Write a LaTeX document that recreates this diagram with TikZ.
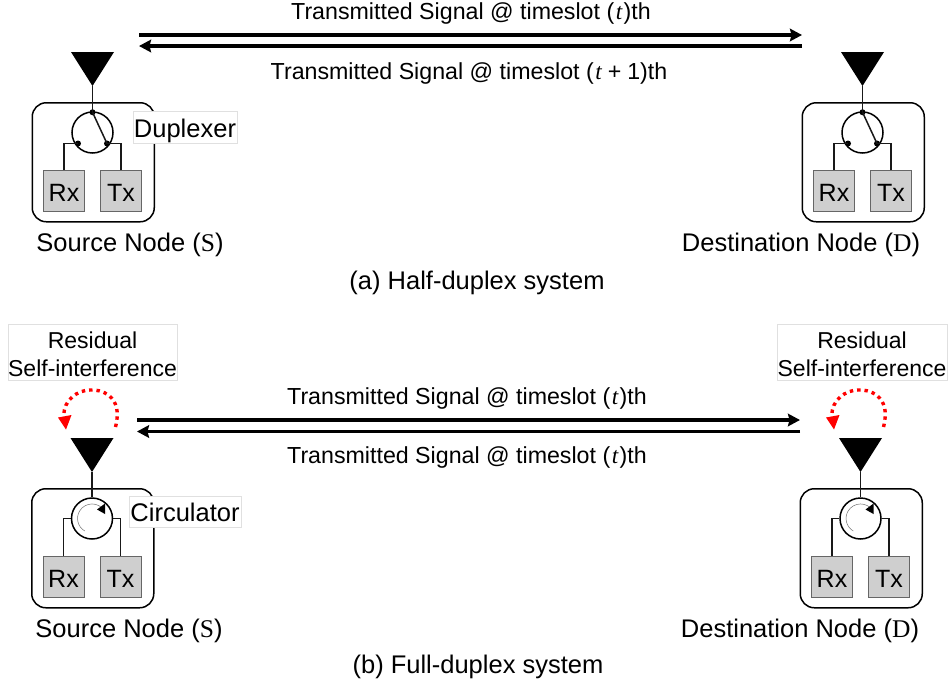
\documentclass[tikz,border=0pt]{standalone}
\usepackage{fontspec}
\setmainfont{Liberation Sans}
\newfontfamily\mathser{Liberation Serif}
\usetikzlibrary{arrows.meta,calc}
\newcommand{\tvar}[1]{\hspace{1.5pt}{\mathser\itshape #1}\hspace{1.5pt}}
\newcommand{\tplus}{\hspace{1.5pt}{\mathser\itshape t}\hspace{6pt}+\hspace{6pt}1}
\tikzset{
  x=1pt,y=-1pt,
  wire/.style={line width=1.5pt,black!90},
  frame/.style={draw=black,line width=1.5pt,rounded corners=14pt,minimum width=122pt,minimum height=119pt,inner sep=0,fill=white},
  port/.style={draw=black!60,fill=black!19,line width=0.8pt,minimum width=41pt,minimum height=41pt,inner sep=0,text height=21pt,text depth=0pt,font=\fontsize{25}{25}\selectfont},
  hub/.style={circle,draw=black,line width=1.5pt,minimum size=41pt,inner sep=0,fill=white},
  ant/.style={fill=black,draw=none},
  dotn/.style={circle,fill=black,minimum size=6pt,inner sep=0},
  txt/.style={font=\fontsize{23.2}{28}\selectfont,inner sep=0},
  captxt/.style={font=\fontsize{25.5}{30}\selectfont,inner sep=0},
  tag/.style={draw=black!12,fill=white,line width=0.6pt,inner sep=0},
  rtxt/.style={inner sep=0,align=center,font=\fontsize{23}{28}\selectfont},
  main/.style={line width=3.6pt,-{Stealth[length=12pt,width=12.5pt,inset=1.5pt]}},
  sig/.style={red,line width=3.4pt,dash pattern=on 3.4pt off 4pt},
}
\newcommand{\hubnode}[3]{% #1 prefix, #2 x, #3 y (frame top-left)
  \node[frame,anchor=north west] (#1box) at (#2,#3) {};
  \node[hub] (#1hub) at ($(#2,#3)+(61,30.5)$) {};
  \node[port] (#1rx) at ($(#2,#3)+(32.5,88.5)$) {Rx};
  \node[port] (#1tx) at ($(#2,#3)+(89.5,88.5)$) {Tx};
  \coordinate (#1tip) at ($(#2,#3)+(61,-16)$);
  \fill[ant] ($(#2,#3)+(39.5,-50)$) -- ($(#2,#3)+(82.5,-50)$) -- (#1tip) -- cycle;
}
\begin{document}
\begin{tikzpicture}
\useasboundingbox (0,0) rectangle (950,681);
% --- half duplex
\hubnode{a}{31.5}{102}
\hubnode{b}{801.5}{102}
\foreach \n in {a,b}{
  \node[dotn] (\n top) at ($(\n hub.north)+(0,1)$) {};
  \node[dotn] (\n l) at ($(\n hub.center)+(-14.5,11)$) {};
  \node[dotn] (\n r) at ($(\n hub.center)+(14.5,11)$) {};
  \draw[wire] (\n tip) -- (\n top.center);
  \draw[wire] (\n top.center) -- (\n r.center);
  \draw[wire] (\n l.center) -| (\n rx.north);
  \draw[wire] (\n r.center) -| (\n tx.north);
}
% --- full duplex
\hubnode{c}{31}{488}
\hubnode{d}{799.5}{488}
\foreach \n in {c,d}{
  \draw[wire] (\n tip) -- (\n hub.north);
  \draw[wire] (\n hub.west) -| (\n rx.north);
  \draw[wire] (\n hub.east) -| (\n tx.north);
  \draw[black!55,line width=0.5pt] ($(\n hub.center)+(-7.2,12.5)$) arc[start angle=240,end angle=35,radius=14.5pt];
  \fill[black] ($(\n hub.center)+(5,-9)$) -- ($(\n hub.center)+(13,-15)$) -- ($(\n hub.center)+(13,-4.5)$) -- cycle;
}
% --- main arrows
\coordinate (a1) at (139,35); \coordinate (a2) at (802,35);
\coordinate (a3) at (802,46); \coordinate (a4) at (139,46);
\draw[main] (a1) -- (a2);
\draw[main] (a3) -- (a4);
\coordinate (c1) at (137,420); \coordinate (c2) at (800,420);
\coordinate (c3) at (800,431.5); \coordinate (c4) at (137,431.5);
\draw[main] (c1) -- (c2);
\draw[main] (c3) -- (c4);
% --- loops
\foreach \dx/\nm in {0/l,768/r}{
  \draw[sig] ($(115.5,427)+(\dx,0)$) .. controls ($(124,395)+(\dx,0)$) and ($(100,389)+(\dx,0)$) .. ($(90,390)+(\dx,0)$) .. controls ($(78,390)+(\dx,0)$) and ($(63,400)+(\dx,0)$) .. ($(64,416)+(\dx,0)$);
  \fill[red] ($(58,417.5)+(\dx,0)$) -- ($(71.5,415)+(\dx,0)$) -- ($(66,429.5)+(\dx,0)$) -- cycle;
}
% --- text
\node[txt] (t1) at (471,13) {Transmitted Signal @ timeslot (\tvar{t})th};
\node[txt] (t2) at (469,73) {Transmitted Signal @ timeslot (\tplus)th};
\node[captxt] (t3) at (130,245) {Source Node ({\mathser S})};
\node[captxt] (t4) at (801,245) {Destination Node ({\mathser D})};
\node[captxt] (t5) at (477,283) {(a) Half-duplex system};
\node[tag,minimum width=104pt,minimum height=32pt] (dup) at (185,127) {};
\node[captxt] (dupt) at (185,131) {Duplexer};
\node[tag,minimum width=112pt,minimum height=31pt] (cir) at (185,511.5) {};
\node[captxt] (cirt) at (185,512.5) {Circulator};
\node[tag,minimum width=169pt,minimum height=56pt] (r1) at (92.5,352) {};
\node[rtxt] (r1t) at (92.5,354) {Residual\\Self-interference};
\node[tag,minimum width=170pt,minimum height=56pt] (r2) at (862,352) {};
\node[rtxt] (r2t) at (862,354) {Residual\\Self-interference};
\node[txt] (t6) at (467,398) {Transmitted Signal @ timeslot (\tvar{t})th};
\node[txt] (t7) at (467,457) {Transmitted Signal @ timeslot (\tvar{t})th};
\node[captxt] (t8) at (129,631) {Source Node ({\mathser S})};
\node[captxt] (t9) at (800,631) {Destination Node ({\mathser D})};
\node[captxt] (t10) at (478,667) {(b) Full-duplex system};
\end{tikzpicture}
\end{document}
